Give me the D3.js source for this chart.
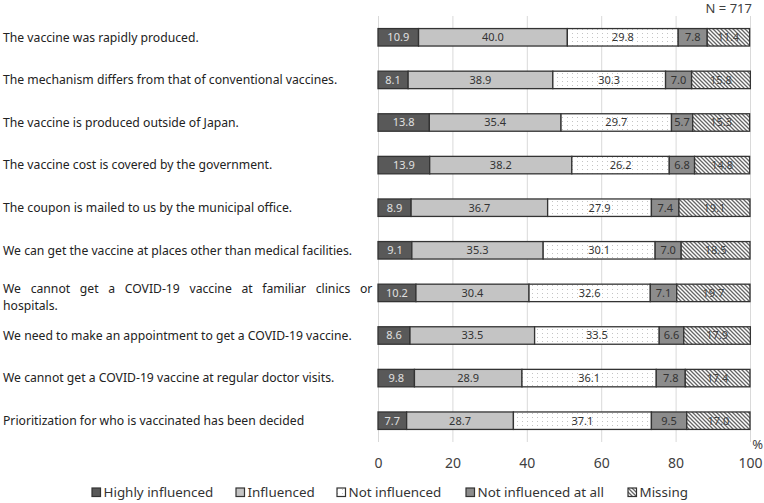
<!DOCTYPE html>
<html><head><meta charset="utf-8">
<script src="https://cdn.jsdelivr.net/npm/d3@7"></script>
<style>
body{margin:0;background:#fff;}
svg text{font-family:"Noto Sans","Open Sans",sans-serif;}
</style></head>
<body><svg id="chart" width="764" height="503"></svg>
<script>
const categories = [
  "The vaccine was rapidly produced.",
  "The mechanism differs from that of conventional vaccines.",
  "The vaccine is produced outside of Japan.",
  "The vaccine cost is covered by the government.",
  "The coupon is mailed to us by the municipal office.",
  "We can get the vaccine at places other than medical facilities.",
  "We cannot get a COVID-19 vaccine at familiar clinics or hospitals.",
  "We need to make an appointment to get a COVID-19 vaccine.",
  "We cannot get a COVID-19 vaccine at regular doctor visits.",
  "Prioritization for who is vaccinated has been decided"
];
const seriesNames = ["Highly influenced","Influenced","Not influenced","Not influenced at all","Missing"];
const highlyInfluenced = [10.9, 8.1, 13.8, 13.9, 8.9, 9.1, 10.2, 8.6, 9.8, 7.7];
const influenced       = [40.0, 38.9, 35.4, 38.2, 36.7, 35.3, 30.4, 33.5, 28.9, 28.7];
const notInfluenced    = [29.8, 30.3, 29.7, 26.2, 27.9, 30.1, 32.6, 33.5, 36.1, 37.1];
const notAtAll         = [7.8, 7.0, 5.7, 6.8, 7.4, 7.0, 7.1, 6.6, 7.8, 9.5];
const missing          = [11.4, 15.8, 15.3, 14.8, 19.1, 18.5, 19.7, 17.9, 17.4, 17.0];
const tickValues = [0, 20, 40, 60, 80, 100];
const sampleNote = "N = 717";

const seriesValues = [highlyInfluenced, influenced, notInfluenced, notAtAll, missing];
const svg = d3.select("#chart");
const defs = svg.append("defs");
const dots = defs.append("pattern").attr("id","dots").attr("patternUnits","userSpaceOnUse").attr("width",5).attr("height",4);
dots.append("rect").attr("width",5).attr("height",4).attr("fill","#fff");
dots.append("rect").attr("x",2).attr("y",1).attr("width",1).attr("height",1).attr("fill","#c4c4c4");
const hatch = defs.append("pattern").attr("id","hatch").attr("patternUnits","userSpaceOnUse").attr("width",4).attr("height",4);
hatch.append("rect").attr("width",4).attr("height",4).attr("fill","#fff");
hatch.append("path").attr("d","M-1,-1 L5,5 M-1,3 L1,5 M3,-1 L5,1").attr("stroke","#666").attr("stroke-width",1.3);

const fills = ["#595959","#c4c4c4","url(#dots)","#8c8c8c","url(#hatch)"];
const textColors = ["#e0e0e0","#333","#333","#333","#444"];

const x = d3.scaleLinear().domain([0,100]).range([378,750]);
const y = d3.scaleBand().domain(categories).range([16,442]).paddingInner(0.59).paddingOuter(0.295);

// gridlines
svg.append("g").attr("transform","translate(0,16)")
  .call(d3.axisBottom(x).tickValues(tickValues).tickSize(426).tickFormat(""))
  .call(g=>g.select(".domain").remove())
  .call(g=>g.selectAll("line").attr("stroke","#d9d9d9").attr("stroke-width",1));

// tick labels
svg.append("g").attr("transform","translate(0,454)")
  .call(d3.axisBottom(x).tickValues(tickValues).tickSize(0).tickPadding(4))
  .call(g=>g.select(".domain").remove())
  .call(g=>g.selectAll("text").attr("font-size",14).attr("fill","#404040").style("font-family","'Noto Sans',sans-serif"));

svg.append("text").attr("x",763).attr("y",449).attr("text-anchor","end").attr("font-size",13).attr("fill","#404040").text("%");
svg.append("text").attr("x",752).attr("y",13).attr("text-anchor","end").attr("font-size",13).attr("fill","#404040").text(sampleNote);

// stacked data
const rows = categories.map((c,i)=>{ let acc=0; return seriesValues.map((vals,s)=>{ const v=vals[i]; const seg={cat:c,s:s,x0:acc,x1:acc+v,v:v}; acc+=v; return seg;}); });

const gBars = svg.append("g");
rows.forEach(row=>{
  const g = gBars.append("g");
  g.selectAll("rect").data(row).join("rect")
    .attr("x",d=>x(d.x0)).attr("y",d=>y(d.cat)).attr("width",d=>x(d.x1)-x(d.x0)).attr("height",y.bandwidth())
    .attr("fill",d=>fills[d.s]).attr("stroke","#333").attr("stroke-width",1.3);
  g.selectAll("text").data(row).join("text")
    .attr("x",d=>(x(d.x0)+x(d.x1))/2).attr("y",d=>y(d.cat)+y.bandwidth()/2).attr("dy","0.35em")
    .attr("text-anchor","middle").attr("font-size",11).attr("fill",d=>textColors[d.s])
    .text(d=>d.v.toFixed(1));
});

// category labels (long labels wrap; first line justified)
const labelFont = 12.2;
const wrapLimit = 362, lineEnd = 372;
const gLab = svg.append("g");
categories.forEach(c=>{
  const cy = y(c)+y.bandwidth()/2;
  const t = gLab.append("text").attr("x",3).attr("y",cy).attr("dy","0.35em").attr("font-size",labelFont).attr("fill","#222").text(c);
  if (t.node().getComputedTextLength() > wrapLimit) {
    const words = c.split(" ");
    let line=[]; let i=0;
    const tmp = gLab.append("text").attr("font-size",labelFont);
    for (; i<words.length; i++){ tmp.text([...line,words[i]].join(" ")); if (tmp.node().getComputedTextLength()>wrapLimit) break; line.push(words[i]); }
    tmp.text(line.join("")); const wNoSpace = tmp.node().getComputedTextLength(); tmp.remove();
    const gap = (lineEnd - 3 - wNoSpace)/(line.length-1);
    let xx=3;
    const t1 = gLab.append("text").attr("y",cy-4.5).attr("dy","0.35em").attr("font-size",labelFont).attr("fill","#222");
    line.forEach(w=>{ const ts=t1.append("tspan").attr("x",xx).text(w); xx += ts.node().getComputedTextLength()+gap; });
    gLab.append("text").attr("x",3).attr("y",cy+12.5).attr("dy","0.35em").attr("font-size",labelFont).attr("fill","#222").text(words.slice(i).join(" "));
    t.remove();
  }
});

// legend
const legX = [92,236,337,466,628];
const gLeg = svg.append("g");
seriesNames.forEach((n,s)=>{
  gLeg.append("rect").attr("x",legX[s]).attr("y",488).attr("width",8.5).attr("height",8.5).attr("fill",fills[s]).attr("stroke","#333").attr("stroke-width",1.2);
  gLeg.append("text").attr("x",legX[s]+11.5).attr("y",492.5).attr("dy","0.35em").attr("font-size",13.4).attr("fill","#333").text(n);
});
</script></body></html>
